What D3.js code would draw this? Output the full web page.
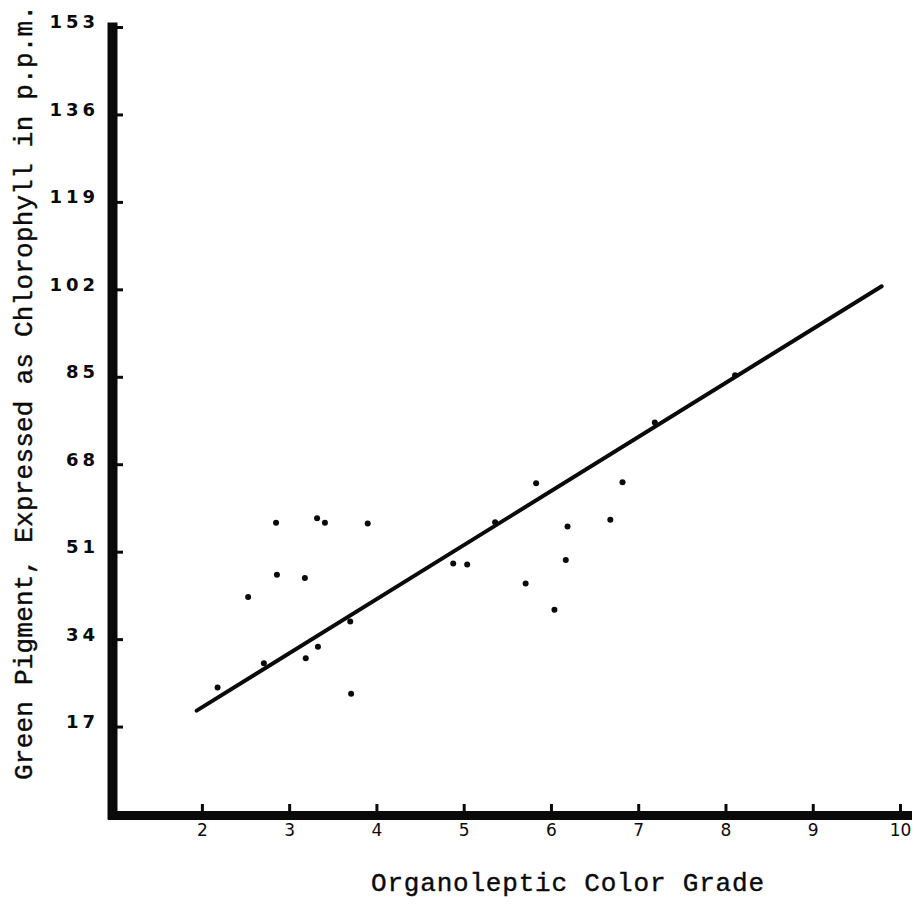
<!DOCTYPE html>
<html>
<head>
<meta charset="utf-8">
<script src="https://cdn.jsdelivr.net/npm/d3@7"></script>
<style>
  html, body { margin: 0; padding: 0; background: #ffffff; }
  svg { display: block; }
</style>
</head>
<body>
<svg id="chart" width="915" height="907"></svg>
<script>
// Organoleptic colour grade of each sample (x) and its green pigment, ppm chlorophyll (y)
const colorGrade = [2.18, 2.53, 2.71, 2.85, 2.86, 3.18, 3.19, 3.32, 3.33, 3.41, 3.70, 3.71, 3.90,
                    4.88, 5.04, 5.36, 5.71, 5.83, 6.04, 6.17, 6.19, 6.68, 6.82, 7.19, 8.11];
const pigmentPpm = [24.6, 42.2, 29.3, 56.6, 46.5, 45.9, 30.3, 57.5, 32.5, 56.6, 37.4, 23.4, 56.5,
                    48.7, 48.5, 56.7, 44.8, 64.3, 39.7, 49.4, 55.9, 57.2, 64.5, 76.1, 85.3];

// Fitted straight line, given by its two end points
const fitGrade = [1.94, 9.79];
const fitPpm = [20.1, 102.6];

// Axis ticks and limits
const gradeTicks = [2, 3, 4, 5, 6, 7, 8, 9, 10];
const ppmTicks = [17, 34, 51, 68, 85, 102, 119, 136, 153];
const gradeLimits = [0.97, 10.08];
const ppmLimits = [0, 153];

const svg = d3.select("#chart");

const x = d3.scaleLinear().domain(gradeLimits).range([112, 907]);
const y = d3.scaleLinear().domain(ppmLimits).range([814, 27]);

const ink = "#0a0a0a";

// Vertical axis: heavy rule, short ticks pointing into the plot
const yAxis = svg.append("g")
  .attr("transform", `translate(${x(gradeLimits[0])},0)`)
  .call(d3.axisLeft(y).tickValues(ppmTicks).tickSizeInner(-11).tickSizeOuter(0).tickPadding(17)
    .tickFormat(d3.format("d")));
yAxis.select(".domain").attr("stroke", ink).attr("stroke-width", 10).attr("stroke-linecap", "square");
yAxis.selectAll(".tick line").attr("stroke", ink).attr("stroke-width", 3);
yAxis.selectAll(".tick text")
  .attr("fill", ink)
  .attr("font-family", "'DejaVu Sans', sans-serif")
  .attr("font-weight", "bold")
  .attr("font-size", 18)
  .attr("letter-spacing", 4)
  .attr("dx", 4)
  .attr("dy", "0.05em");

// Horizontal axis
const xAxis = svg.append("g")
  .attr("transform", `translate(0,${y(ppmLimits[0]) + 1})`)
  .call(d3.axisBottom(x).tickValues(gradeTicks).tickSizeInner(-11).tickSizeOuter(0).tickPadding(9)
    .tickFormat(d3.format("d")));
xAxis.select(".domain").attr("stroke", ink).attr("stroke-width", 9).attr("stroke-linecap", "square");
xAxis.selectAll(".tick line").attr("stroke", ink).attr("stroke-width", 3);
xAxis.selectAll(".tick text")
  .attr("fill", ink)
  .attr("font-family", "'DejaVu Sans', sans-serif")
  .attr("font-size", 17);

// Regression line
svg.append("line")
  .attr("x1", x(fitGrade[0])).attr("y1", y(fitPpm[0]))
  .attr("x2", x(fitGrade[1])).attr("y2", y(fitPpm[1]))
  .attr("stroke", ink)
  .attr("stroke-width", 4)
  .attr("stroke-linecap", "round");

// Sample points
svg.append("g")
  .selectAll("circle")
  .data(colorGrade.map((g, i) => [g, pigmentPpm[i]]))
  .join("circle")
  .attr("cx", d => x(d[0]))
  .attr("cy", d => y(d[1]))
  .attr("r", 3)
  .attr("fill", ink);

// Axis titles in typewriter face
svg.append("text")
  .attr("x", 371)
  .attr("y", 891)
  .attr("textLength", 393)
  .attr("lengthAdjust", "spacing")
  .attr("font-family", "'Liberation Mono', 'DejaVu Sans Mono', monospace")
  .attr("font-size", 26)
  .attr("stroke", ink)
  .attr("stroke-width", 0.4)
  .attr("fill", ink)
  .text("Organoleptic Color Grade");

svg.append("text")
  .attr("transform", "translate(32,780) rotate(-90)")
  .attr("textLength", 775)
  .attr("lengthAdjust", "spacing")
  .attr("font-family", "'Liberation Mono', 'DejaVu Sans Mono', monospace")
  .attr("font-size", 26)
  .attr("stroke", ink)
  .attr("stroke-width", 0.4)
  .attr("fill", ink)
  .text("Green Pigment, Expressed as Chlorophyll in p.p.m.");
</script>
</body>
</html>
